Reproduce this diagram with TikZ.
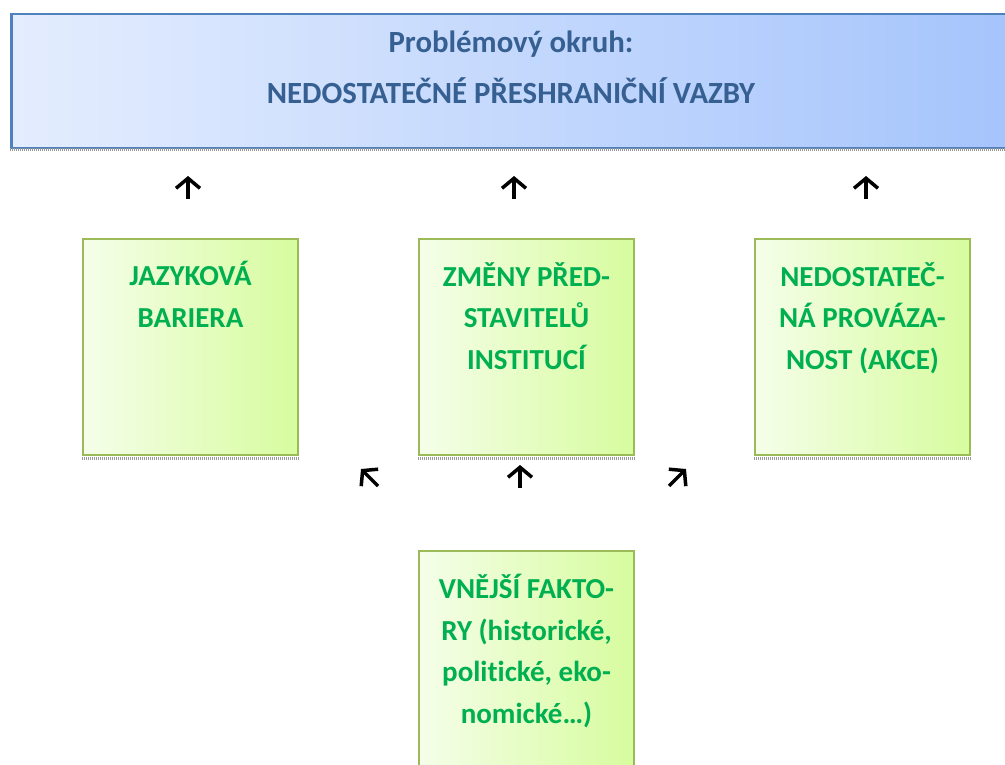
\documentclass[tikz,border=0pt]{standalone}
\usepackage{fontspec}
\setmainfont{Carlito}[Ligatures=NoCommon]
\usetikzlibrary{positioning,arrows.meta}
\definecolor{titleblue}{HTML}{376092}
\definecolor{frameblue}{HTML}{4F81BD}
\definecolor{skyleft}{HTML}{E4EDFE}
\definecolor{skyright}{HTML}{A5C4FC}
\definecolor{textgreen}{HTML}{00B050}
\definecolor{framegreen}{HTML}{9BBB59}
\definecolor{limeleft}{HTML}{F5FEE9}
\definecolor{limeright}{HTML}{D7FC9E}

\begin{document}
\begin{tikzpicture}[x=1pt, y=-1pt,
    headbox/.style={rectangle, draw=frameblue, line width=2.5pt, left color=skyleft, right color=skyright, minimum width=1010pt, minimum height=134pt, anchor=north west},
    cause/.style={rectangle, draw=framegreen, line width=2pt, left color=limeleft, right color=limeright, minimum width=215pt, minimum height=216pt, anchor=north west},
    headtext/.style={text=titleblue, font=\fontsize{30.8}{51}\selectfont\bfseries, align=center, inner sep=0pt},
    causetext/.style={text=textgreen, font=\fontsize{29}{41.5}\selectfont\bfseries, align=center, inner sep=0pt},
    shadow/.style={draw=gray!80, line width=3pt, dash pattern=on 1pt off 1pt},
    glyph/.style={line width=3.5pt, -{Straight Barb[length=10pt, width=24pt]}}
]
    \useasboundingbox (0,0) rectangle (1005,765);
    \clip (0,0) rectangle (1005,765);

    % Problem area
    \node[headbox] (problem) at (10,13) {};
    \draw[shadow] (10,150) -- (1005,150);
    \node[headtext, anchor=north] (problemtext) at (511,31) {Problémový okruh:\\NEDOSTATEČNÉ PŘESHRANIČNÍ VAZBY};

    % Causes
    \node[cause] (language) at (82,238) {};
    \node[cause] (officials) at (418,238) {};
    \node[cause] (linkage) at (754,238) {};
    \node[cause] (external) at (418,550) {};
    \foreach \b in {language, officials, linkage}
        \draw[shadow] ([yshift=-2.5pt]\b.south west) -- ([yshift=-2.5pt]\b.south east);

    \node[causetext, below=23pt of language.north] (languagetext) {JAZYKOVÁ\\BARIERA};
    \node[causetext, below=24pt of officials.north] (officialstext) {ZMĚNY PŘED-\\STAVITELŮ\\INSTITUCÍ};
    \node[causetext, below=24pt of linkage.north] (linkagetext) {NEDOSTATEČ-\\NÁ PROVÁZA-\\NOST (AKCE)};
    \node[causetext, below=24pt of external.north] (externaltext) {VNĚJŠÍ FAKTO-\\RY (historické,\\politické, eko-\\nomické…)};

    % Arrows
    \coordinate (up1a) at (188,199);  \coordinate (up1b) at (188,176);
    \coordinate (up2a) at (514,199);  \coordinate (up2b) at (514,176);
    \coordinate (up3a) at (866,199);  \coordinate (up3b) at (866,176);
    \coordinate (midla) at (378,486); \coordinate (midlb) at (361,469);
    \coordinate (midca) at (520,488); \coordinate (midcb) at (520,465);
    \coordinate (midra) at (669,486); \coordinate (midrb) at (686,469);
    \foreach \a in {up1, up2, up3, midl, midc, midr}
        \draw[glyph] (\a a) -- (\a b);
\end{tikzpicture}
\end{document}
